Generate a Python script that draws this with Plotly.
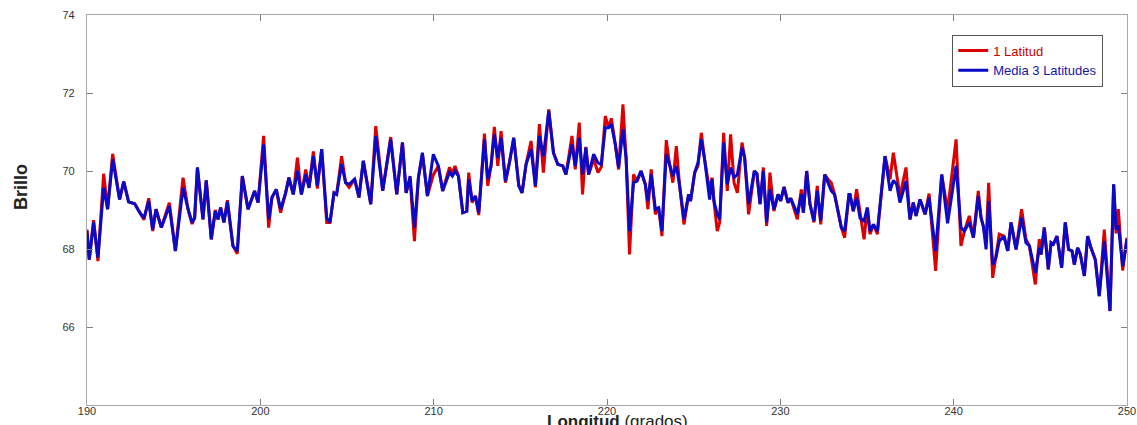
import plotly.graph_objects as go

# Longitude (degrees), values
lon = [190.00, 190.13, 190.38, 190.63, 190.96, 191.19, 191.48, 191.88, 192.12, 192.40,
       192.75, 193.08, 193.29, 193.56, 193.79, 193.98, 194.29, 194.75, 195.10,
       195.54, 195.83, 196.06, 196.21, 196.37, 196.69, 196.88, 197.17, 197.40, 197.56,
       197.71, 197.90, 198.10, 198.42, 198.67, 198.96, 199.29, 199.67, 199.87, 200.19,
       200.48, 200.67, 200.92,
       201.17, 201.46, 201.65, 201.90, 202.14, 202.37, 202.62, 202.81, 203.06, 203.29,
       203.54, 203.83, 204.02, 204.25, 204.40, 204.69, 204.92, 205.12, 205.44, 205.69,
       205.94, 206.37,
       206.66, 207.06, 207.52, 207.87, 208.20, 208.41, 208.64, 208.89, 209.12, 209.35,
       209.64, 209.98, 210.27, 210.52, 210.91, 211.08, 211.23, 211.43, 211.68, 211.91,
       212.02, 212.22, 212.41, 212.60, 212.93, 213.12, 213.31, 213.50, 213.70, 213.89,
       214.14, 214.37, 214.62, 214.91, 215.10, 215.33, 215.62, 215.87, 216.10, 216.33,
       216.64, 216.91, 217.16, 217.45,
       217.63, 217.98, 218.17, 218.40, 218.59, 218.78, 218.94, 219.23, 219.48, 219.67,
       219.90, 220.09, 220.25, 220.48, 220.67, 220.92, 221.10, 221.30, 221.53, 221.73,
       221.96, 222.21, 222.36, 222.55, 222.79, 222.98,
       223.17, 223.42, 223.61, 223.80, 224.00, 224.19, 224.44, 224.71, 224.82, 225.06,
       225.25, 225.44, 225.63, 225.92, 226.06, 226.17, 226.36, 226.50, 226.73, 226.94,
       227.13, 227.33, 227.52, 227.79, 227.94, 228.17, 228.50,
       228.65, 228.83, 229.02, 229.21, 229.40, 229.63, 229.87, 230.02, 230.21, 230.44,
       230.60, 230.83, 230.98, 231.21, 231.33, 231.52, 231.71, 231.94, 232.13, 232.33,
       232.56, 232.75, 232.94, 233.13, 233.52, 233.71, 233.96,
       234.02, 234.21, 234.40, 234.60, 234.83, 235.02, 235.17, 235.37, 235.60, 236.04,
       236.33, 236.52, 236.71, 236.90, 237.25, 237.48, 237.67, 237.83, 238.06, 238.35,
       238.58, 238.96, 239.31, 239.65,
       240.14, 240.42, 240.62, 240.90, 241.14, 241.42, 241.58, 241.71, 241.87, 242.02,
       242.25, 242.44, 242.63, 242.90, 243.12, 243.31, 243.60, 243.92, 244.17, 244.37,
       244.71, 244.94, 245.04, 245.23,
       245.46, 245.62, 245.75, 245.96, 246.23, 246.44, 246.63, 246.83, 246.96, 247.15,
       247.31, 247.54, 247.73, 247.92, 248.17, 248.40, 248.69, 249.02, 249.23, 249.37,
       249.50, 249.75, 250.00]

# Mean of 3 latitudes (blue)
media3 = [68.46, 67.73, 68.68, 67.78, 69.57, 69.02, 70.30, 69.27, 69.73, 69.21,
          69.16, 68.91, 68.80, 69.23, 68.50, 69.02, 68.55, 69.10, 67.95,
          69.57, 69.02, 68.68, 68.80, 70.09, 68.76, 69.76, 68.25, 68.97, 68.76,
          69.06, 68.68, 69.21, 68.08, 67.95, 69.87, 69.02, 69.49, 69.19, 70.68,
          68.76, 69.32, 69.53,
          69.02, 69.44, 69.83, 69.40, 70.00, 69.40, 69.91, 69.57, 70.38, 69.62,
          70.56, 68.80, 68.68, 69.44, 69.40, 70.17, 69.70, 69.66, 69.79, 69.32,
          70.26, 69.15,
          70.90, 69.49, 70.81, 69.40, 70.73, 69.44, 69.87, 68.55, 69.83, 70.47,
          69.36, 70.43, 70.13, 69.49, 69.96, 69.87, 70.00, 69.87, 68.93, 68.97,
          69.79, 69.23, 69.36, 68.93, 70.81, 69.79, 70.13, 70.94, 70.34, 70.85,
          69.74, 70.21, 70.85, 69.62, 69.44, 70.17, 70.56, 69.62, 70.90, 70.38,
          71.54, 70.47, 70.17, 70.13,
          69.91, 70.68, 70.13, 70.85, 69.91, 70.60, 69.91, 70.43, 70.21, 70.17,
          71.11, 71.11, 71.20, 70.68, 70.09, 71.07, 70.34, 68.46, 69.70, 69.74,
          70.00, 69.66, 69.23, 69.91, 69.02, 69.06,
          68.46, 70.43, 70.17, 69.87, 70.13, 69.62, 68.76, 69.40, 69.23, 69.96,
          70.21, 70.81, 70.30, 69.27, 69.79, 69.23, 68.89, 68.76, 70.73, 69.66,
          70.09, 69.83, 69.91, 70.60, 70.34, 69.15, 70.00,
          69.93, 69.15, 70.00, 68.68, 69.53, 69.02, 69.40, 69.23, 69.59, 69.19,
          69.30, 69.06, 68.89, 69.40, 68.93, 70.00, 69.15, 68.72, 69.49, 68.72,
          69.91, 69.70, 69.49, 69.40, 68.55, 68.46, 69.40,
          69.40, 68.97, 69.32, 68.79, 68.72, 69.06, 68.46, 68.63, 68.46, 70.38,
          69.49, 69.76, 69.66, 69.19, 69.74, 68.76, 69.19, 68.85, 69.27, 68.89,
          69.32, 67.95, 69.91, 68.66,
          70.13, 68.55, 68.46, 68.68, 68.29, 69.36, 68.80, 68.59, 67.99, 69.23,
          67.60, 67.78, 68.20, 68.33, 67.95, 68.68, 67.99, 68.80, 68.16, 68.08,
          67.39, 68.03, 67.86, 68.55,
          67.48, 68.16, 68.12, 68.33, 67.52, 68.68, 67.99, 67.95, 67.60, 68.03,
          67.86, 67.31, 68.33, 68.03, 67.73, 66.79, 68.20, 66.41, 69.66, 68.50,
          68.60, 67.56, 68.25]

# Single latitude (red)
lat1 = [68.50, 67.73, 68.74, 67.69, 69.93, 69.02, 70.44, 69.27, 69.73, 69.21,
        69.16, 68.91, 68.75, 69.30, 68.46, 69.02, 68.55, 69.19, 67.95,
        69.83, 69.02, 68.64, 68.80, 70.09, 68.76, 69.76, 68.25, 69.00, 68.76,
        69.06, 68.68, 69.25, 68.08, 67.88, 69.87, 69.02, 69.49, 69.19, 70.90,
        68.55, 69.32, 69.53,
        68.93, 69.44, 69.83, 69.40, 70.34, 69.40, 70.04, 69.57, 70.50, 69.55,
        70.56, 68.68, 68.68, 69.44, 69.40, 70.38, 69.70, 69.58, 69.79, 69.32,
        70.26, 69.15,
        71.15, 69.49, 70.87, 69.40, 70.73, 69.44, 69.80, 68.20, 69.83, 70.43,
        69.36, 69.90, 70.13, 69.49, 70.09, 69.95, 70.13, 69.87, 68.93, 68.97,
        69.96, 69.19, 69.36, 68.87, 70.96, 69.62, 70.13, 71.13, 70.13, 71.02,
        69.70, 70.21, 70.85, 69.64, 69.44, 70.17, 70.77, 69.58, 71.20, 69.96,
        71.58, 70.47, 70.17, 70.13,
        69.91, 70.90, 70.04, 71.24, 69.40, 70.62, 69.91, 70.30, 69.96, 70.10,
        71.41, 71.11, 71.35, 70.68, 70.04, 71.71, 70.34, 67.86, 69.91, 69.74,
        70.00, 69.66, 69.02, 70.04, 68.89, 69.06,
        68.33, 70.79, 70.17, 69.70, 70.64, 69.62, 68.63, 69.40, 69.23, 69.96,
        70.13, 70.98, 70.30, 69.49, 69.83, 69.23, 68.46, 68.68, 70.98, 69.49,
        70.94, 69.70, 69.44, 70.73, 70.34, 68.89, 70.00,
        69.93, 69.15, 70.09, 68.59, 69.96, 68.97, 69.40, 69.23, 69.59, 69.19,
        69.30, 68.93, 68.76, 69.53, 68.93, 70.00, 69.15, 68.68, 69.62, 68.63,
        69.91, 69.79, 69.70, 69.40, 68.55, 68.29, 69.40,
        69.40, 68.97, 69.53, 68.97, 68.25, 69.06, 68.38, 68.63, 68.38, 70.38,
        69.79, 70.47, 69.91, 69.36, 70.09, 68.76, 69.19, 68.85, 69.27, 68.89,
        69.42, 67.44, 69.91, 68.98,
        70.81, 68.08, 68.46, 68.85, 68.29, 69.49, 68.80, 68.59, 68.20, 69.70,
        67.26, 67.78, 68.38, 68.33, 67.95, 68.68, 67.99, 69.02, 68.25, 68.08,
        67.09, 68.25, 67.86, 68.55,
        67.48, 68.16, 68.12, 68.33, 67.52, 68.68, 67.99, 67.95, 67.60, 68.03,
        67.86, 67.31, 68.33, 68.03, 67.73, 66.79, 68.50, 66.41, 69.66, 68.40,
        69.02, 67.45, 68.29]

x_ticks = [190, 200, 210, 220, 230, 240, 250]
y_ticks = [66, 68, 70, 72, 74]

RED = "rgb(220,0,0)"
BLUE = "rgb(10,10,200)"
FONT = "Arial, Liberation Sans, sans-serif"
PAD = "\u00a0\u00a0\u00a0"

fig = go.Figure()
fig.add_trace(go.Scatter(
    x=lon, y=lat1, mode="lines",
    name="<span style='color:rgb(200,0,0)'>1 Latitud</span>",
    line=dict(color=RED, width=3)))
fig.add_trace(go.Scatter(
    x=lon, y=media3, mode="lines",
    name="<span style='color:rgb(20,20,170)'>Media 3 Latitudes</span>",
    line=dict(color=BLUE, width=3)))

axis_common = dict(
    showline=True, linecolor="#a8a8a8", linewidth=1, mirror="ticks",
    ticks="inside", ticklen=6, tickcolor="#808080",
    showgrid=False, zeroline=False, automargin=False,
    ticklabeloverflow="allow",
    tickfont=dict(family=FONT, size=11, color="#333333"),
)

fig.update_layout(
    width=1137, height=425,
    margin=dict(l=87, r=10, t=15, b=20),
    paper_bgcolor="white", plot_bgcolor="white",
    font=dict(family=FONT),
    xaxis=dict(range=[190, 250], tickvals=x_ticks, ticktext=[str(v) for v in x_ticks],
               ticklabelstandoff=-4, **axis_common),
    yaxis=dict(range=[64, 74], tickvals=y_ticks, ticktext=[str(v) + PAD for v in y_ticks],
               **axis_common),
    showlegend=True,
    legend=dict(
        x=0.832, y=0.95, xanchor="left", yanchor="top",
        bgcolor="white", bordercolor="#555555", borderwidth=1,
        font=dict(family=FONT, size=13),
        tracegroupgap=0, itemwidth=30,
    ),
    annotations=[
        dict(text="<b>Longitud</b> (grados)", x=0.51, y=-0.0154, xref="paper", yref="paper",
             xanchor="center", yanchor="top", showarrow=False, borderpad=0,
             font=dict(family=FONT, size=17, color="#222222")),
        dict(text="<b>Brillo</b>", x=-0.064, y=0.56, xref="paper", yref="paper",
             xanchor="center", yanchor="middle", showarrow=False, textangle=-90,
             font=dict(family=FONT, size=18, color="#222222")),
    ],
)

fig.write_html("out.html")
